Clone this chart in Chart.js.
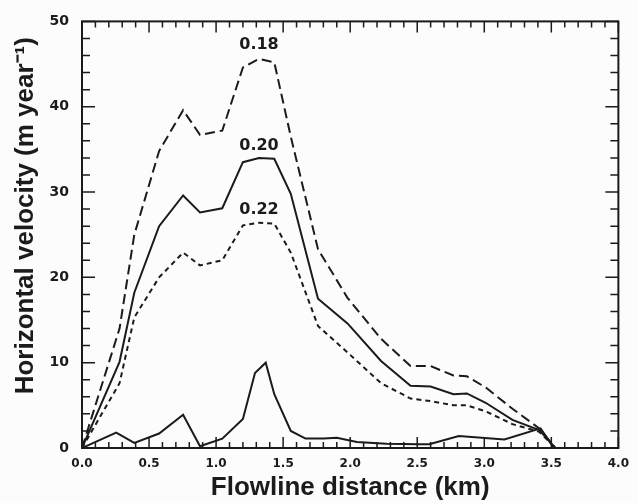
<!DOCTYPE html>
<html>
<head>
<meta charset="utf-8">
<script src="https://cdn.jsdelivr.net/npm/chart.js@4.4.1/dist/chart.umd.min.js"></script>
<style>
  html, body { margin: 0; padding: 0; background: #fbfcfb; }
  #wrap { width: 638px; height: 503px; }
</style>
</head>
<body>
<div id="wrap"><canvas id="chart" width="638" height="503"></canvas></div>
<script>
// flowline nodes (km) shared by the three labelled curves
const distance = [0, 0.28, 0.39, 0.575, 0.754, 0.88, 1.046, 1.2, 1.32, 1.434, 1.557, 1.76, 1.98, 2.23, 2.45, 2.6, 2.77, 2.87, 3.01, 3.21, 3.41, 3.53];
const velocity018 = [0, 14.0, 25.0, 34.8, 39.6, 36.7, 37.2, 44.6, 45.6, 45.2, 36.5, 23.3, 17.6, 12.8, 9.6, 9.6, 8.5, 8.4, 7.1, 4.6, 2.3, 0];
const velocity020 = [0, 10.1, 18.2, 26.0, 29.6, 27.6, 28.1, 33.5, 34.0, 33.9, 29.8, 17.5, 14.6, 10.2, 7.3, 7.2, 6.3, 6.4, 5.3, 3.3, 2.1, 0];
const velocity022 = [0, 7.6, 15.3, 20.0, 22.9, 21.4, 22.0, 26.1, 26.4, 26.3, 22.9, 14.3, 11.2, 7.6, 5.8, 5.5, 5.0, 5.0, 4.3, 2.8, 1.9, 0];

// unlabelled lower curve
const distanceLow = [0, 0.255, 0.39, 0.575, 0.754, 0.88, 1.046, 1.2, 1.29, 1.37, 1.434, 1.557, 1.667, 1.8, 1.9, 2.05, 2.27, 2.51, 2.59, 2.81, 2.98, 3.15, 3.42, 3.52];
const velocityLow = [0, 1.8, 0.6, 1.7, 3.9, 0.2, 1.1, 3.4, 8.8, 10.0, 6.3, 2.0, 1.1, 1.1, 1.2, 0.7, 0.5, 0.45, 0.45, 1.4, 1.2, 1.0, 2.3, 0];

const curveLabels = ['0.18', '0.20', '0.22'];
const labelDistance = [1.32, 1.32, 1.32];
const labelVelocity = [47.3, 35.4, 27.9];

const yTitle = 'Horizontal velocity (m year\u207B\u00B9)';
const ink = '#1b1b1b';

function pairs(xs, ys) {
  return xs.map((x, i) => ({ x: x, y: ys[i] }));
}

// box round the plot, ticks pointing inward on all four sides
const frameTicks = {
  id: 'frameTicks',
  afterDraw(chart) {
    const { ctx, chartArea: a, scales: { x, y } } = chart;
    ctx.save();
    ctx.strokeStyle = ink;
    ctx.lineWidth = 2;
    ctx.strokeRect(a.left, a.top, a.right - a.left, a.bottom - a.top);
    ctx.lineWidth = 1.5;
    ctx.beginPath();
    for (let i = 0; i <= 40; i++) {
      const px = x.getPixelForValue(i / 10);
      const len = i % 5 === 0 ? 11 : 6;
      ctx.moveTo(px, a.bottom); ctx.lineTo(px, a.bottom - len);
      ctx.moveTo(px, a.top); ctx.lineTo(px, a.top + len);
    }
    for (let v = 0; v <= 50; v += 2) {
      const py = y.getPixelForValue(v);
      const len = v % 10 === 0 ? 13 : 8;
      ctx.moveTo(a.left, py); ctx.lineTo(a.left + len, py);
      ctx.moveTo(a.right, py); ctx.lineTo(a.right - len, py);
    }
    ctx.stroke();
    ctx.restore();
  }
};

// curve labels and the vertical axis title (set a little above centre, as in the print)
const chartText = {
  id: 'chartText',
  afterDatasetsDraw(chart) {
    const { ctx, chartArea: a, scales: { x, y } } = chart;
    ctx.save();
    ctx.fillStyle = ink;
    ctx.font = 'bold 16px "DejaVu Sans"';
    ctx.textAlign = 'center';
    ctx.textBaseline = 'middle';
    curveLabels.forEach((t, i) => {
      ctx.fillText(t, x.getPixelForValue(labelDistance[i]), y.getPixelForValue(labelVelocity[i]));
    });

    ctx.font = 'bold 26px "Liberation Sans"';
    ctx.textBaseline = 'alphabetic';
    ctx.translate(33, (a.top + a.bottom) / 2 - 19);
    ctx.rotate(-Math.PI / 2);
    ctx.fillText(yTitle, 0, 0);
    ctx.restore();
  }
};

const line = (data, dash) => ({
  data: data,
  borderColor: ink,
  borderWidth: 2,
  borderDash: dash,
  pointRadius: 0,
  fill: false,
  tension: 0
});

new Chart(document.getElementById('chart'), {
  type: 'line',
  data: {
    datasets: [
      line(pairs(distance, velocity018), [10, 5]),
      line(pairs(distance, velocity020), []),
      line(pairs(distance, velocity022), [5, 4]),
      line(pairs(distanceLow, velocityLow), [])
    ]
  },
  options: {
    responsive: false,
    devicePixelRatio: 1,
    animation: false,
    layout: { padding: { top: 15, right: 13, left: 0, bottom: 0 } },
    plugins: { legend: { display: false }, tooltip: { enabled: false } },
    scales: {
      x: {
        type: 'linear',
        min: 0,
        max: 4,
        grid: { display: false, drawTicks: false },
        border: { display: false },
        ticks: {
          stepSize: 0.5,
          padding: 9,
          color: ink,
          font: { family: 'DejaVu Sans', size: 12, weight: 'bold' },
          callback: v => v.toFixed(1)
        },
        title: {
          display: true,
          text: 'Flowline distance (km)',
          color: ink,
          font: { family: 'Liberation Sans', size: 26, weight: 'bold' },
          padding: { top: 2, bottom: 0 }
        },
        afterFit: s => { s.height = 55; }
      },
      y: {
        min: 0,
        max: 50,
        grid: { display: false, drawTicks: false },
        border: { display: false },
        ticks: {
          stepSize: 10,
          padding: 13,
          color: ink,
          font: { family: 'DejaVu Sans', size: 14, weight: 'bold' }
        },
        afterFit: s => { s.width = 82; }
      }
    }
  },
  plugins: [frameTicks, chartText]
});
</script>
</body>
</html>
